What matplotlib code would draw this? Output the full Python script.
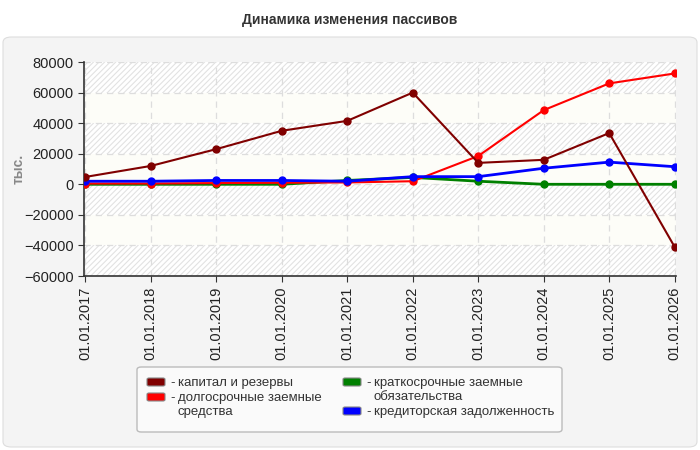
import matplotlib.pyplot as plt
from matplotlib.patches import FancyBboxPatch

# даты и значения пассивов (тыс.)
dates = ['01.01.2017', '01.01.2018', '01.01.2019', '01.01.2020', '01.01.2021',
         '01.01.2022', '01.01.2023', '01.01.2024', '01.01.2025', '01.01.2026']
capital = [4800, 12000, 23000, 35000, 41500, 60000, 14000, 16000, 33500, -41000]
long_term = [500, 500, 800, 1000, 1200, 2000, 18500, 48500, 66000, 72500]
short_term = [0, 0, 0, 0, 2500, 4500, 2000, 0, 0, 0]
payables = [2000, 2000, 2500, 2500, 2000, 5000, 5000, 10500, 14500, 11500]

labels = ['капитал и резервы', 'долгосрочные заемные\nсредства',
          'краткосрочные заемные\nобязательства', 'кредиторская задолженность']
colors = ['#800000', '#ff0000', '#008000', '#0000ff']

plt.rcParams['font.family'] = ['Liberation Sans', 'DejaVu Sans']
plt.rcParams['hatch.color'] = '#e2e2e2'
plt.rcParams['hatch.linewidth'] = 0.8

W, H = 700, 450
fig = plt.figure(figsize=(7, 4.5), dpi=100)
fig.patch.set_facecolor('white')

def fx(px):
    return px / W

def fy(py):
    return 1 - py / H

# серая подложка с закругленными углами
panel = FancyBboxPatch((fx(3), fy(447)), fx(694), 410 / H, boxstyle='round,pad=0,rounding_size=0.012',
                       transform=fig.transFigure, facecolor='#f4f4f4', edgecolor='#dddddd',
                       linewidth=0.8, zorder=-5)
fig.patches.append(panel)

fig.text(0.5, fy(20), 'Динамика изменения пассивов', ha='center', va='center',
         fontsize=10, fontweight='bold', color='#333333')

ax = fig.add_axes([fx(84), fy(276), fx(676 - 84), (276 - 62) / H])
ax.set_facecolor('#fdfdf8')

x = list(range(len(dates)))

# полосы фона: штриховка через одну, начиная сверху
for hi in range(80000, -60000, -40000):
    ax.axhspan(hi - 20000, hi, facecolor='white', hatch='//////', edgecolor='#e2e2e2',
               linewidth=0, zorder=0)

ax.plot(x, short_term, color=colors[2], lw=2, marker='o', ms=5, zorder=3)
ax.plot(x, long_term, color=colors[1], lw=1.5, marker='o', ms=5, zorder=3)
ax.plot(x, payables, color=colors[3], lw=2, marker='o', ms=5, zorder=4)
ax.plot(x, capital, color=colors[0], lw=1.5, marker='o', ms=5, zorder=5)

ax.set_xlim(-0.02, len(dates) - 1 + 0.02)
ax.set_ylim(-60000, 80000)
ax.set_yticks(range(-60000, 80001, 20000))
ax.set_xticks(x)
ax.set_xticklabels(dates, rotation=90, fontsize=10.5, color='#222222')
ax.tick_params(axis='y', labelsize=10.5, labelcolor='#222222', length=4, color='#333333')
ax.tick_params(axis='x', length=4, color='#333333')
ax.grid(True, color='#dddddd', linestyle=(0, (5, 4)), linewidth=0.9, zorder=1)
ax.set_axisbelow(True)
for s in ['top', 'right']:
    ax.spines[s].set_visible(False)
for s in ['left', 'bottom']:
    ax.spines[s].set_color('#333333')
    ax.spines[s].set_linewidth(1.2)

ax.set_ylabel('тыс.', fontsize=10, fontweight='bold', color='#888888')
ax.yaxis.set_label_coords(-0.098, 0.5)

# легенда
box = FancyBboxPatch((fx(137), fy(432)), fx(425), 65 / H, boxstyle='round,pad=0,rounding_size=0.006',
                     transform=fig.transFigure, facecolor='#fafafa', edgecolor='#bbbbbb',
                     linewidth=1.0, zorder=2)
fig.patches.append(box)
spots = [(147, 382), (147, 397), (343, 382), (343, 411)]
for (hx, hy), c, lab in zip(spots, colors, labels):
    h = FancyBboxPatch((fx(hx), fy(hy + 4)), fx(18), 8 / H, boxstyle='round,pad=0,rounding_size=0.003',
                       transform=fig.transFigure, facecolor=c, edgecolor='#888888',
                       linewidth=0.8, zorder=3)
    fig.patches.append(h)
    fig.text(fx(hx + 23), fy(hy + 1), '-', ha='left', va='center', fontsize=9.5, color='#333333')
    fig.text(fx(hx + 31), fy(hy - 5), lab, ha='left', va='top', fontsize=9.5, color='#333333',
             linespacing=1.2)

fig.savefig('out.png', dpi=100)
